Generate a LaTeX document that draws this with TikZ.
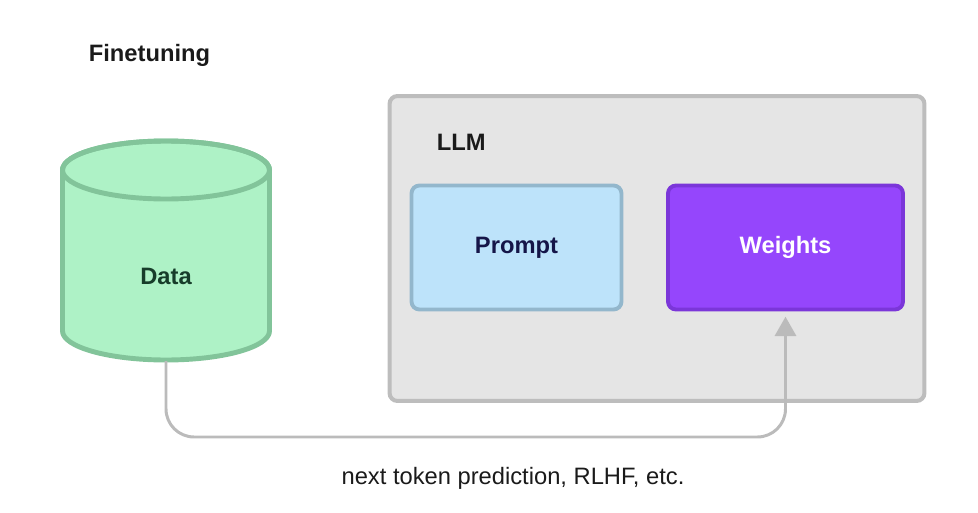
\documentclass[tikz,border=0pt]{standalone}
\usepackage{fontspec}
\setmainfont{Liberation Sans}
\usetikzlibrary{positioning, arrows.meta, calc}

\definecolor{dataFill}{HTML}{AEF2C6}
\definecolor{dataLine}{HTML}{82C49A}
\definecolor{dataText}{HTML}{173D2A}
\definecolor{llmFill}{HTML}{E5E5E5}
\definecolor{llmLine}{HTML}{BDBDBD}
\definecolor{promptFill}{HTML}{BDE3FA}
\definecolor{promptLine}{HTML}{93B7CC}
\definecolor{weightFill}{HTML}{9546FC}
\definecolor{weightLine}{HTML}{7B36D9}
\definecolor{flowLine}{HTML}{BBBBBB}
\definecolor{inkDark}{HTML}{1A1A1A}

\begin{document}
\begin{tikzpicture}[x=0.02cm, y=0.02cm,
    every node/.style={font=\fontsize{13.5}{16}\selectfont, inner sep=2pt},
    boldtxt/.style={font=\fontsize{13.5}{16}\selectfont\bfseries, text=inkDark},
    innerbox/.style={draw, rounded corners=4.5pt, line width=2.2pt, minimum height=2.48cm}]

    \useasboundingbox (0,0) rectangle (978,512);

    % 1. title
    \node[boldtxt, anchor=west] (title) at (85,457) {Finetuning};

    % 2. data store (cylinder)
    \draw[draw=dataLine, fill=dataFill, line width=2.8pt]
        (62.5,342) -- (62.5,181)
        arc[start angle=180, end angle=360, x radius=103.5, y radius=29]
        -- (269.5,342)
        arc[start angle=0, end angle=180, x radius=103.5, y radius=29] -- cycle;
    \draw[draw=dataLine, line width=2.8pt] (166,342) ellipse[x radius=103.5, y radius=29];
    \node[boldtxt, text=dataText] (data) at (166,236) {Data};
    \coordinate (databottom) at (166,151);

    % 3. LLM box with its parts
    \node[draw=llmLine, fill=llmFill, rounded corners=4.5pt, line width=2.3pt,
          minimum width=10.7cm, minimum height=6.1cm] (llm) at (657,263.5) {};
    \node[boldtxt, anchor=west] (llmlabel) at (433,370) {LLM};
    \node[innerbox, draw=promptLine, fill=promptFill, minimum width=4.2cm,
          boldtxt, text=inkDark!80!blue] (prompt) at (516.5,264.5) {Prompt};
    \node[innerbox, draw=weightLine, fill=weightFill, minimum width=4.7cm,
          boldtxt, text=white] (weights) at (785.5,264.5) {Weights};

    % 4. training path
    \coordinate (turn) at ($(databottom |- 0,75)$);
    \draw[flowLine, line width=1.7pt, rounded corners=16pt,
          -{Triangle[width=12pt, length=11pt]}, shorten >=3pt]
        (databottom) -- (turn) -- (turn -| weights.south) -- (weights.south);

    % 5. caption
    \node[text=inkDark] (caption) at (513,34) {next token prediction, RLHF, etc.};

\end{tikzpicture}
\end{document}
